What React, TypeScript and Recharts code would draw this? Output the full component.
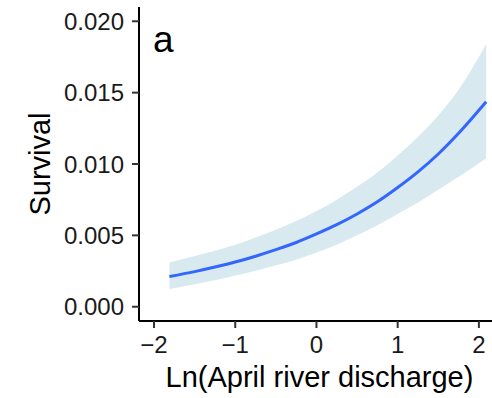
import { ComposedChart, Area, Line, XAxis, YAxis, Label } from 'recharts';

// values
const discharge = [-1.81, -1.5, -1.25, -1, -0.75, -0.5, -0.25, 0, 0.25, 0.5, 0.75, 1, 1.25, 1.5, 1.75, 2.09];
const survivalFit = [0.00212, 0.00246, 0.00278, 0.00313, 0.00354, 0.004, 0.0045, 0.0051, 0.00575, 0.0065, 0.00735, 0.00835, 0.00945, 0.0107, 0.01215, 0.01436];
const survivalLow = [0.00124, 0.00158, 0.00185, 0.00218, 0.00252, 0.0029, 0.0033, 0.0038, 0.00435, 0.005, 0.0057, 0.0065, 0.0073, 0.0082, 0.0091, 0.0104];
const survivalHigh = [0.0031, 0.00355, 0.00393, 0.00435, 0.00485, 0.0054, 0.006, 0.0067, 0.0075, 0.0084, 0.0094, 0.0106, 0.0119, 0.0134, 0.0152, 0.0184];
const xTicks = [-2, -1, 0, 1, 2];
const yTicks = [0, 0.005, 0.01, 0.015, 0.02];

const data = discharge.map((x, i) => ({
  x,
  fit: survivalFit[i],
  band: [survivalLow[i], survivalHigh[i]],
}));

const FONT = '"Liberation Sans", Arial, sans-serif';
const tickStyle = { fontSize: 24, fill: '#1a1a1a', fontFamily: FONT };

export default function App() {
  return (
    <div style={{ position: 'absolute', left: 0, top: 0, width: 492, height: 398, overflow: 'hidden', background: '#fff' }}>
      <ComposedChart width={500} height={398} data={data} margin={{ top: 7, right: 0, left: 0, bottom: 0 }}>
        <XAxis
          dataKey="x"
          type="number"
          domain={[-2.185, 2.26]}
          ticks={xTicks}
          allowDataOverflow
          height={77}
          tickSize={7}
          tickMargin={8}
          tick={tickStyle}
          tickFormatter={(v: number) => String(v).replace('-', '\u2212')}
          axisLine={{ stroke: '#000', strokeWidth: 2 }}
          tickLine={{ stroke: '#333', strokeWidth: 2 }}
        >
          <Label
            content={({ viewBox }: any) => (
              <text x={viewBox.x + viewBox.width / 2} y={387} textAnchor="middle" fontSize={29} fontFamily={FONT} fill="#000">
                Ln(April river discharge)
              </text>
            )}
          />
        </XAxis>
        <XAxis xAxisId="top" orientation="top" dataKey="x" type="number" domain={[-2.185, 2.26]} height={0} tick={false} tickLine={false} axisLine={{ stroke: '#000', strokeWidth: 2 }} />
        <YAxis
          type="number"
          domain={[-0.001, 0.021]}
          ticks={yTicks}
          allowDataOverflow
          width={139}
          tickSize={7}
          tickMargin={8}
          tick={tickStyle}
          tickFormatter={(v: number) => v.toFixed(3)}
          axisLine={{ stroke: '#000', strokeWidth: 2 }}
          tickLine={{ stroke: '#333', strokeWidth: 2 }}
        >
          <Label
            content={({ viewBox }: any) => {
              const cy = viewBox.y + viewBox.height / 2;
              return (
                <text x={50} y={cy} textAnchor="middle" fontSize={29} fontFamily={FONT} fill="#000" transform={`rotate(-90 50 ${cy})`}>
                  Survival
                </text>
              );
            }}
          />
        </YAxis>
        <Area dataKey="band" type="monotone" fill="#d8eaf0" fillOpacity={1} stroke="none" isAnimationActive={false} />
        <Line dataKey="fit" type="monotone" stroke="#3366ff" strokeWidth={3} dot={false} isAnimationActive={false} />
      </ComposedChart>
      <div style={{ position: 'absolute', left: 153, top: 18, fontSize: 37, fontFamily: FONT, lineHeight: '44px', color: '#000' }}>a</div>
    </div>
  );
}
